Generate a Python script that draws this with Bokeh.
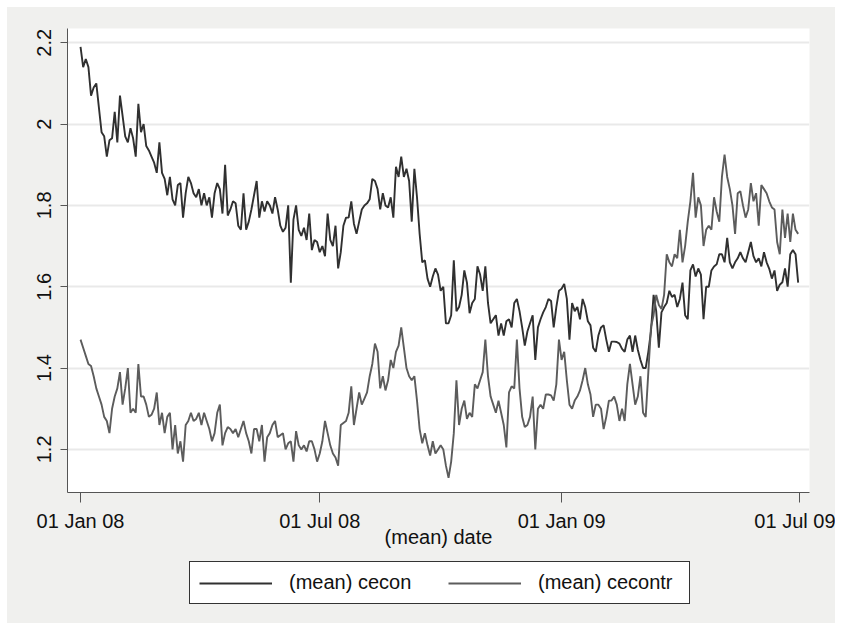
import pandas as pd
from bokeh.plotting import figure
from bokeh.layouts import column
from bokeh.models import (Range1d, FixedTicker, DatetimeTickFormatter, Legend,
                          LegendItem, ColumnDataSource)
from bokeh.embed import file_html
from bokeh.resources import INLINE

# ---- data (one value every 2 days from 01 Jan 2008) ----
start_date = "2008-01-01"
step = "2D"

cecon = [
    2.19, 2.14, 2.16, 2.14, 2.07, 2.09, 2.10, 2.04, 1.98, 1.97,
    1.92, 1.96, 1.965, 2.03, 1.955, 2.07, 2.02, 1.97, 1.955, 1.99,
    1.965, 1.92, 2.05, 1.98, 2.00, 1.946, 1.935, 1.92, 1.905, 1.88,
    1.955, 1.88, 1.865, 1.825, 1.87, 1.815, 1.80, 1.85, 1.855, 1.77,
    1.83, 1.87, 1.855, 1.83, 1.82, 1.84, 1.80, 1.83, 1.80, 1.82,
    1.77, 1.83, 1.855, 1.84, 1.78, 1.90, 1.775, 1.79, 1.81, 1.805,
    1.75, 1.74, 1.83, 1.74, 1.76, 1.79, 1.825, 1.86, 1.77, 1.81,
    1.785, 1.81, 1.80, 1.78, 1.82, 1.79, 1.75, 1.735, 1.745, 1.80,
    1.61, 1.765, 1.80, 1.74, 1.725, 1.745, 1.715, 1.78, 1.69, 1.715,
    1.71, 1.685, 1.70, 1.675, 1.78, 1.715, 1.70, 1.75, 1.645, 1.685,
    1.75, 1.77, 1.77, 1.81, 1.755, 1.73, 1.76, 1.79, 1.80, 1.805,
    1.815, 1.865, 1.86, 1.84, 1.79, 1.83, 1.80, 1.795, 1.82, 1.77,
    1.895, 1.87, 1.92, 1.87, 1.89, 1.86, 1.76, 1.89, 1.82, 1.73,
    1.66, 1.665, 1.62, 1.60, 1.625, 1.645, 1.63, 1.59, 1.60, 1.51,
    1.51, 1.53, 1.665, 1.54, 1.55, 1.58, 1.64, 1.61, 1.535, 1.56,
    1.57, 1.65, 1.63, 1.59, 1.65, 1.56, 1.51, 1.52, 1.53, 1.48,
    1.51, 1.48, 1.515, 1.52, 1.50, 1.56, 1.57, 1.54, 1.50, 1.455,
    1.49, 1.51, 1.53, 1.42, 1.50, 1.52, 1.537, 1.55, 1.57, 1.565,
    1.50, 1.55, 1.59, 1.595, 1.607, 1.57, 1.47, 1.56, 1.54, 1.55,
    1.52, 1.57, 1.55, 1.515, 1.505, 1.45, 1.44, 1.48, 1.50, 1.505,
    1.47, 1.44, 1.465, 1.465, 1.464, 1.46, 1.447, 1.44, 1.47, 1.48,
    1.44, 1.48, 1.445, 1.42, 1.40, 1.40, 1.44, 1.49, 1.58, 1.54,
    1.45, 1.537, 1.55, 1.56, 1.59, 1.575, 1.58, 1.55, 1.57, 1.61,
    1.53, 1.52, 1.64, 1.655, 1.625, 1.645, 1.63, 1.52, 1.60, 1.60,
    1.64, 1.65, 1.655, 1.68, 1.68, 1.66, 1.72, 1.66, 1.645, 1.66,
    1.67, 1.685, 1.67, 1.66, 1.685, 1.71, 1.675, 1.66, 1.67, 1.65,
    1.685, 1.66, 1.644, 1.62, 1.64, 1.59, 1.605, 1.611, 1.645, 1.60,
    1.68, 1.69, 1.68, 1.61,
]

cecontr = [
    1.47, 1.45, 1.43, 1.41, 1.405, 1.38, 1.35, 1.33, 1.31, 1.28,
    1.27, 1.24, 1.30, 1.33, 1.35, 1.39, 1.31, 1.35, 1.40, 1.29,
    1.30, 1.29, 1.41, 1.33, 1.33, 1.31, 1.28, 1.285, 1.30, 1.34,
    1.26, 1.29, 1.24, 1.28, 1.29, 1.20, 1.26, 1.19, 1.22, 1.17,
    1.26, 1.27, 1.29, 1.27, 1.275, 1.29, 1.26, 1.29, 1.27, 1.25,
    1.22, 1.24, 1.29, 1.31, 1.21, 1.24, 1.255, 1.25, 1.24, 1.25,
    1.23, 1.25, 1.27, 1.24, 1.22, 1.19, 1.25, 1.25, 1.22, 1.26,
    1.17, 1.23, 1.24, 1.26, 1.27, 1.23, 1.235, 1.24, 1.20, 1.215,
    1.22, 1.17, 1.245, 1.21, 1.20, 1.21, 1.195, 1.22, 1.22, 1.20,
    1.17, 1.19, 1.22, 1.27, 1.24, 1.21, 1.19, 1.18, 1.16, 1.26,
    1.265, 1.27, 1.29, 1.355, 1.26, 1.30, 1.34, 1.31, 1.325, 1.34,
    1.38, 1.41, 1.46, 1.44, 1.35, 1.38, 1.345, 1.37, 1.42, 1.40,
    1.44, 1.455, 1.50, 1.45, 1.40, 1.38, 1.37, 1.38, 1.32, 1.25,
    1.215, 1.24, 1.21, 1.185, 1.22, 1.19, 1.20, 1.21, 1.20, 1.16,
    1.13, 1.17, 1.24, 1.37, 1.26, 1.30, 1.32, 1.275, 1.29, 1.28,
    1.36, 1.35, 1.37, 1.39, 1.47, 1.38, 1.33, 1.31, 1.29, 1.32,
    1.29, 1.26, 1.205, 1.34, 1.355, 1.35, 1.47, 1.35, 1.28, 1.255,
    1.26, 1.28, 1.33, 1.20, 1.30, 1.31, 1.30, 1.335, 1.335, 1.333,
    1.32, 1.36, 1.47, 1.42, 1.44, 1.37, 1.31, 1.30, 1.32, 1.33,
    1.345, 1.37, 1.40, 1.36, 1.335, 1.28, 1.31, 1.31, 1.30, 1.25,
    1.28, 1.32, 1.32, 1.33, 1.31, 1.27, 1.30, 1.27, 1.36, 1.41,
    1.36, 1.31, 1.33, 1.38, 1.29, 1.28, 1.39, 1.50, 1.53, 1.58,
    1.555, 1.545, 1.58, 1.68, 1.66, 1.65, 1.68, 1.67, 1.74, 1.66,
    1.70, 1.76, 1.81, 1.88, 1.77, 1.82, 1.80, 1.70, 1.74, 1.75,
    1.74, 1.82, 1.785, 1.76, 1.87, 1.925, 1.87, 1.84, 1.80, 1.73,
    1.83, 1.835, 1.80, 1.77, 1.79, 1.855, 1.81, 1.83, 1.75, 1.85,
    1.84, 1.83, 1.81, 1.795, 1.79, 1.71, 1.68, 1.79, 1.72, 1.78,
    1.71, 1.78, 1.74, 1.73,
]

x_tick_dates = ["2008-01-01", "2008-07-01", "2009-01-01", "2009-07-01"]
x_tick_labels = ["01 Jan 08", "01 Jul 08", "01 Jan 09", "01 Jul 09"]
y_ticks = [1.2, 1.4, 1.6, 1.8, 2, 2.2]
y_tick_labels = ["1.2", "1.4", "1.6", "1.8", "2", "2.2"]
series_labels = ["(mean) cecon", "(mean) cecontr"]
x_title = "(mean) date"

# ---- styles ----
FONT = "Liberation Sans"
BG = "#f0f0ee"
C1, C2 = "#303030", "#5c5c5c"
LW = 1.9
W = 828

# ---- main chart ----
src_a = ColumnDataSource(dict(date=pd.date_range(start_date, periods=len(cecon), freq=step), v=cecon))
src_b = ColumnDataSource(dict(date=pd.date_range(start_date, periods=len(cecontr), freq=step), v=cecontr))

p = figure(width=W, height=551, x_axis_type="datetime",
           output_backend="svg", toolbar_location=None,
           x_range=Range1d(pd.Timestamp("2007-12-22 02:00"), pd.Timestamp("2009-07-08 15:00")),
           y_range=Range1d(1.094, 2.235),
           min_border_left=60, min_border_right=26, min_border_top=21, min_border_bottom=66,
           background_fill_color="white", border_fill_color=BG, outline_line_color=None)

p.line("date", "v", source=src_a, line_color=C1, line_width=LW)
p.line("date", "v", source=src_b, line_color=C2, line_width=LW)

tick_ms = [int(pd.Timestamp(d).value // 10**6) for d in x_tick_dates]
p.xaxis.ticker = FixedTicker(ticks=tick_ms)
p.xaxis.formatter = DatetimeTickFormatter(days="%d %b %y", months="%d %b %y", years="%d %b %y")
p.xaxis.major_label_overrides = dict(zip(tick_ms, x_tick_labels))
p.yaxis.ticker = FixedTicker(ticks=y_ticks)
p.yaxis.major_label_overrides = dict(zip(y_ticks, y_tick_labels))
p.yaxis.major_label_orientation = "vertical"

for ax in (p.xaxis[0], p.yaxis[0]):
    ax.axis_line_color = "#555555"
    ax.axis_line_width = 1
    ax.major_tick_line_color = "#555555"
    ax.major_tick_in = 0
    ax.minor_tick_line_color = None
    ax.major_label_text_font = FONT
    ax.major_label_text_font_size = "20px"
    ax.major_label_text_color = "#111111"

p.xaxis.major_tick_out = 10
p.xaxis.major_label_standoff = 7
p.yaxis.major_tick_out = 7
p.yaxis.major_label_standoff = 9

p.xaxis.axis_label = x_title
p.xaxis.axis_label_text_font = FONT
p.xaxis.axis_label_text_font_size = "20px"
p.xaxis.axis_label_text_font_style = "normal"
p.xaxis.axis_label_text_color = "#111111"
p.xaxis.axis_label_standoff = -9

p.xgrid.visible = False
p.ygrid.ticker = FixedTicker(ticks=y_ticks)
p.ygrid.grid_line_color = "#e9e9e9"
p.ygrid.grid_line_width = 2

# ---- legend strip below the chart ----
lg = figure(width=W, height=65, output_backend="svg", toolbar_location=None,
            x_range=Range1d(0, 1), y_range=Range1d(0, 1),
            x_axis_location=None, y_axis_location=None,
            min_border_left=60, min_border_right=26, min_border_top=0, min_border_bottom=0,
            background_fill_color=BG, border_fill_color=BG, outline_line_color=None)
lg.grid.visible = False
# keys reuse the series sources; they fall outside this strip's ranges, so only the legend shows
k1 = lg.line("date", "v", source=src_a, line_color=C1, line_width=2)
k2 = lg.line("date", "v", source=src_b, line_color=C2, line_width=2)

legend = Legend(items=[LegendItem(label=series_labels[0], renderers=[k1]),
                       LegendItem(label=series_labels[1], renderers=[k2])],
                orientation="horizontal", location=(122, 19),
                glyph_width=73, glyph_height=20, label_standoff=17, spacing=17,
                label_width=142, padding=9, margin=0,
                label_text_font=FONT, label_text_font_size="20px", label_text_color="#111111",
                border_line_color="#333333", border_line_width=1, border_line_alpha=1.0,
                background_fill_color="white", background_fill_alpha=1.0)
lg.add_layout(legend, "center")

layout = column(p, lg, spacing=0, margin=(7, 0, 0, 7), styles={"background-color": BG})
open("out.html", "w").write(file_html(layout, INLINE))
